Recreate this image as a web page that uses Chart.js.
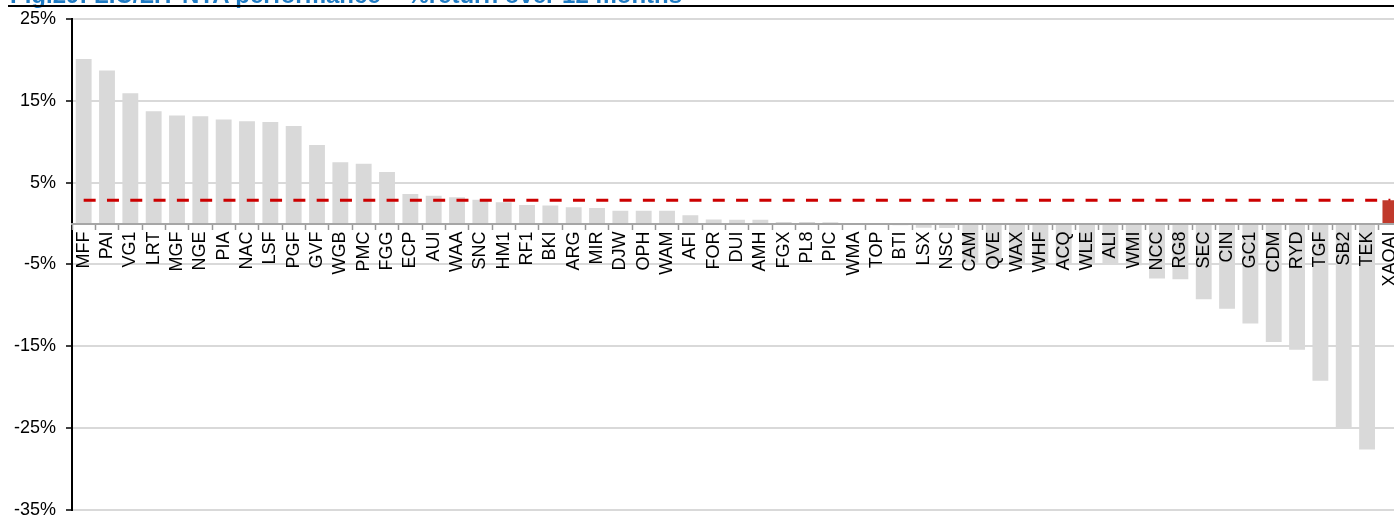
<!DOCTYPE html>
<html>
<head>
<meta charset="utf-8">
<script src="https://cdn.jsdelivr.net/npm/chart.js@4/dist/chart.umd.min.js"></script>
<style>
  body { margin: 0; width: 1394px; height: 519px; overflow: hidden; background: #fff; position: relative; }
  #title { position: absolute; top: -17px; left: 10px; font: bold 24px "Liberation Sans", Arial, sans-serif; line-height: 24px; color: #1f7bc4; white-space: nowrap; z-index: 2; }
  #rule { position: absolute; top: 5px; left: 8px; right: 0; height: 2px; background: #000; z-index: 2; }
  #chart { position: absolute; top: -2px; left: 0; }
</style>
</head>
<body>
<div id="title">Fig.29: LIC/LIT NTA performance – %return over 12 months</div>
<div id="rule"></div>
<canvas id="chart" width="1415" height="533"></canvas>
<script>
const categories = ["MFF","PAI","VG1","LRT","MGF","NGE","PIA","NAC","LSF","PGF","GVF","WGB","PMC","FGG","ECP","AUI","WAA","SNC","HM1","RF1","BKI","ARG","MIR","DJW","OPH","WAM","AFI","FOR","DUI","AMH","FGX","PL8","PIC","WMA","TOP","BTI","LSX","NSC","CAM","QVE","WAX","WHF","ACQ","WLE","ALI","WMI","NCC","RG8","SEC","CIN","GC1","CDM","RYD","TGF","SB2","TEK","XAOAI"]

// 12 month return (%) per LIC / LIT
const returns = [20.1,18.7,15.9,13.7,13.2,13.1,12.7,12.5,12.4,11.9,9.6,7.5,7.3,6.3,3.6,3.4,3.2,2.9,2.6,2.25,2.2,2.0,1.9,1.55,1.55,1.55,1.0,0.5,0.45,0.45,0.2,0.2,0.15,0.05,0.03,-0.2,-0.5,-0.55,-4.8,-4.9,-4.9,-5.0,-5.0,-5.0,-5.0,-5.1,-6.7,-6.8,-9.25,-10.4,-12.2,-14.45,-15.4,-19.2,-24.97,-27.6,null]

// benchmark (All Ords accumulation)
const xaoai = 2.85
const benchmarkBar = categories.map(c => c === "XAOAI" ? xaoai : null)
const benchmarkLine = categories.map(() => xaoai)

const yTicks = [-35,-25,-15,-5,5,15,25]

const fontFamily = '"Liberation Sans", Arial, sans-serif'

new Chart(document.getElementById("chart"), {
    type: "bar",
    data: {
        labels: categories,
        datasets: [
            {
                type: "bar",
                data: benchmarkBar,
                backgroundColor: "#c0392b",
                grouped: false,
                barPercentage: 0.68,
                categoryPercentage: 1,
                order: 0
            },
            {
                type: "line",
                data: benchmarkLine,
                borderColor: "#cc0000",
                borderWidth: 3,
                borderDash: [12, 11.3],
                pointRadius: 0,
                fill: false,
                order: 1
            },
            {
                type: "bar",
                data: returns,
                backgroundColor: "#d9d9d9",
                grouped: false,
                barPercentage: 0.68,
                categoryPercentage: 1,
                order: 2
            }
        ]
    },
    options: {
        responsive: false,
        animation: false,
        layout: { padding: { top: 7, left: 0, right: 0, bottom: 0 } },
        plugins: { legend: { display: false }, tooltip: { enabled: false } },
        scales: {
            x: {
                position: { y: 0 },
                offset: true,
                grid: { drawOnChartArea: false, offset: true, tickLength: 5, tickColor: "#999", tickWidth: 1.5, z: 1 },
                border: { color: "#a6a6a6", width: 2, z: 1 },
                ticks: {
                    z: 1,
                    autoSkip: false,
                    minRotation: 90,
                    maxRotation: 90,
                    padding: 3,
                    color: "#000",
                    font: { family: fontFamily, size: 18 }
                }
            },
            y: {
                min: -35,
                max: 25,
                afterBuildTicks: (scale) => { scale.ticks = yTicks.map(v => ({ value: v })) },
                afterFit: (scale) => { scale.width = 72 },
                grid: { color: "#d9d9d9", lineWidth: 2, tickColor: "#000", tickLength: 6, tickWidth: 1.5 },
                border: { color: "#000", width: 2 },
                ticks: {
                    padding: 10,
                    color: "#000",
                    font: { family: fontFamily, size: 18 },
                    callback: (v) => v + "%"
                }
            }
        }
    }
})
</script>
</body>
</html>
